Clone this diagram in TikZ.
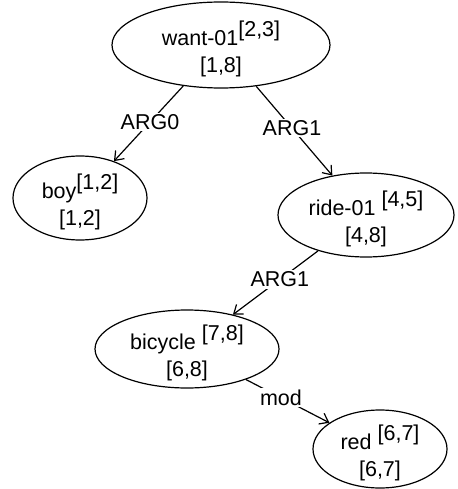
\documentclass[tikz,border=0pt]{standalone}
\usepackage{fontspec}
\setmainfont{Liberation Sans}
\usetikzlibrary{arrows.meta,shapes.geometric}
\begin{document}
\begin{tikzpicture}[x=1pt,y=-1pt,
  ell/.style={draw,ellipse,line width=1.2pt,inner sep=0pt},
  txt/.style={align=center,inner sep=0pt,font=\fontsize{21.5}{27}\selectfont},
  lbl/.style={fill=white,inner sep=1.5pt,font=\fontsize{21.5}{26}\selectfont},
  arr/.style={line width=1.2pt,-{Straight Barb[length=8pt,width=12pt,line width=1.2pt]}}]
\useasboundingbox (0,0) rectangle (457,489);
\newcommand{\sy}[1]{\raisebox{9pt}{#1}}
% ellipses
\node[ell,minimum width=218pt,minimum height=86pt] (want) at (221,45) {};
\node[ell,minimum width=134pt,minimum height=84pt] (boy) at (80,198) {};
\node[ell,minimum width=176pt,minimum height=84pt] (ride) at (366,215) {};
\node[ell,minimum width=184pt,minimum height=78pt] (bike) at (187,349) {};
\node[ell,minimum width=134pt,minimum height=78pt] (red) at (380,449) {};
% texts
\node[txt] (wantT) at ([yshift=-3.5pt]want.center) {want-01\sy{[2,3]}\\{[1,8]}};
\node[txt] (boyT) at ([yshift=-3.5pt]boy.center) {boy\sy{[1,2]}\\{[1,2]}};
\node[txt] (rideT) at ([yshift=-3.5pt]ride.center) {ride-01 \sy{[4,5]}\\{[4,8]}};
\node[txt] (bikeT) at ([yshift=-3.5pt]bike.center) {bicycle \sy{[7,8]}\\{[6,8]}};
\node[txt] (redT) at ([yshift=-3.5pt]red.center) {red \sy{[6,7]}\\{[6,7]}};
% edges
\draw[arr] (want) -- node[lbl,pos=0.48] {ARG0} (boy);
\draw[arr] (want) -- node[lbl,pos=0.47] {ARG1} (ride);
\draw[arr] (ride) -- node[lbl,pos=0.45] {ARG1} (bike);
\draw[arr] (bike) -- node[lbl,pos=0.42] {mod} (red);
\end{tikzpicture}
\end{document}
